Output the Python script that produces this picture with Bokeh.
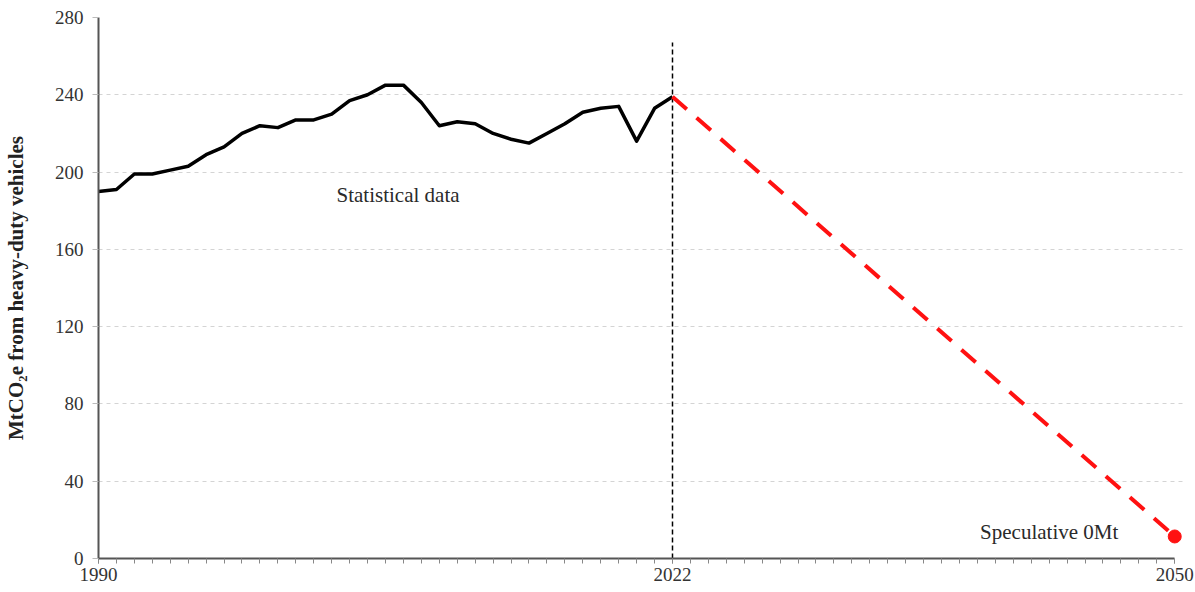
from bokeh.plotting import figure
from bokeh.models import Range1d, FixedTicker, ColumnDataSource
from bokeh.core.properties import value
from bokeh.embed import file_html
from bokeh.resources import INLINE

# ---- data ----
years = list(range(1990, 2023))
emissions = [190, 191, 199, 199, 201, 203, 209, 213, 220, 224, 223, 227, 227, 230,
             237, 240, 245, 245, 236, 224, 226, 225, 220, 217, 215, 220, 225, 231,
             233, 234, 216, 233, 239]
projection_years = [2022, 2050]
projection_values = [239, 11.4]
divider_year = [2022]
divider_top = [267]
y_ticks = [0, 40, 80, 120, 160, 200, 240, 280]
x_tick_labels = [1990, 2022, 2050]
minor_years = list(range(1990, 2051))
label_stat = {"x": [2006.7], "y": [188], "text": ["Statistical data"]}
label_spec = {"x": [2043.0], "y": [13.5], "text": ["Speculative 0Mt"]}
y_title = "MtCO\u2082e from heavy-duty vehicles"

FONT = "Liberation Serif"

p = figure(width=1195, height=592, output_backend="svg", toolbar_location=None,
           x_range=Range1d(1990, 2050.6), y_range=Range1d(0, 280),
           min_border_left=98, min_border_right=10, min_border_top=17, min_border_bottom=34)
p.outline_line_color = None
p.background_fill_color = "white"
p.border_fill_color = "white"

# grid
p.xgrid.visible = False
p.ygrid.grid_line_color = "#d4d4d4"
p.ygrid.grid_line_dash = "4 4"
p.ygrid.grid_line_width = 1

# x axis
p.xaxis.ticker = FixedTicker(ticks=x_tick_labels, minor_ticks=minor_years)
p.xaxis.bounds = (1990, 2050)
p.xaxis.axis_line_color = "#555555"
p.xaxis.axis_line_width = 2
p.xaxis.major_tick_line_color = "#888888"
p.xaxis.minor_tick_line_color = "#888888"
p.xaxis.major_tick_in = 0
p.xaxis.major_tick_out = 5
p.xaxis.minor_tick_in = 0
p.xaxis.minor_tick_out = 5
p.xaxis.major_label_text_font = FONT
p.xaxis.major_label_text_font_size = "19px"
p.xaxis.major_label_text_color = "#333333"
p.xaxis.major_label_standoff = 4

# y axis
p.yaxis.ticker = FixedTicker(ticks=y_ticks, minor_ticks=[])
p.yaxis.axis_line_color = "#555555"
p.yaxis.axis_line_width = 2
p.yaxis.major_tick_line_color = "#bbbbbb"
p.yaxis.major_tick_in = 0
p.yaxis.major_tick_out = 6
p.yaxis.major_label_text_font = FONT
p.yaxis.major_label_text_font_size = "19px"
p.yaxis.major_label_text_color = "#333333"
p.yaxis.major_label_standoff = 9
p.yaxis.axis_label = y_title
p.yaxis.axis_label_text_font = FONT
p.yaxis.axis_label_text_font_style = "bold"
p.yaxis.axis_label_text_font_size = "21px"
p.yaxis.axis_label_text_color = "#222222"
p.yaxis.axis_label_standoff = 24

# divider
p.segment(x0=divider_year, y0=[0], x1=divider_year, y1=divider_top,
          line_color="black", line_width=1.5, line_dash="5 3")

# statistical line
p.line(years, emissions, line_color="black", line_width=3.5, line_join="round")

# projection
p.line(projection_years, projection_values, line_color="#ff1111", line_width=4,
       line_dash="19 13")
p.scatter([projection_years[-1]], [projection_values[-1]], size=13,
          fill_color="#ff1111", line_color="#ff1111")

# labels
for lab in (label_stat, label_spec):
    p.text(x="x", y="y", text="text", source=ColumnDataSource(lab),
           text_font=value(FONT), text_font_size="21px", text_color="#2a2a2a",
           text_align="center", text_baseline="middle")

open("out.html", "w").write(file_html(p, INLINE))
